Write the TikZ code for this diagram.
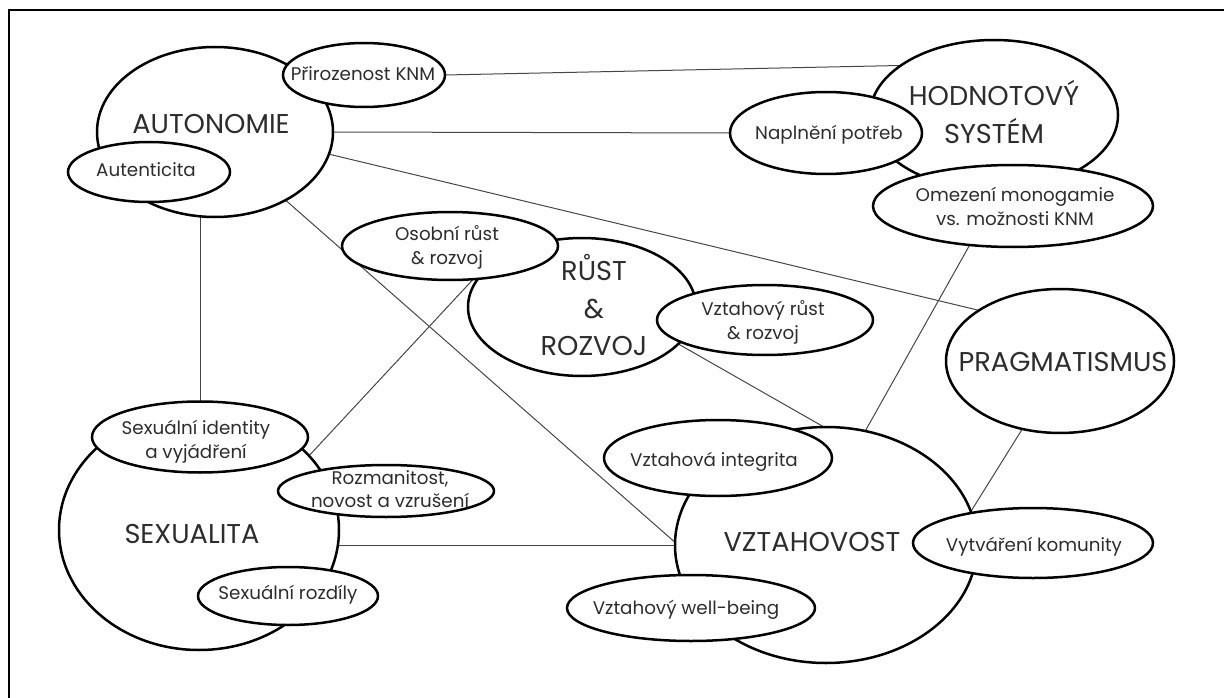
\documentclass[tikz,border=0pt]{standalone}
\usepackage{fontspec}
\setmainfont{Poppins}
\usetikzlibrary{shapes.geometric,backgrounds}
\definecolor{txt}{RGB}{45,45,45}
\definecolor{ln}{RGB}{70,70,70}
\newcommand\zt[3]{\makebox[0pt]{\kern#1\relax\raisebox{\dimexpr#2-0.25em\relax}[0pt][0pt]{\begin{tabular}{@{}c@{}}#3\end{tabular}}\kern-#1\relax}}
\newcommand\bigfs{\fontsize{27.2}{37.5}\selectfont}
\newcommand\smallfs{\fontsize{18.3}{23.5}\selectfont}
\begin{document}
\begin{tikzpicture}[x=1pt,y=-1pt,
  ell/.style={ellipse,draw=black,fill=white,line width=2.5pt,inner sep=0pt,outer sep=0pt,text=txt},
  bigell/.style={ell,font=\bigfs},
  smallell/.style={ell,font=\smallfs},
  conn/.style={draw=ln,line width=1pt},
  frameline/.style={draw=black,line width=2pt}]
\useasboundingbox (0,0) rectangle (1224,698);
\draw[frameline] (9,698) -- (9,10) -- (1224,10);

% big ellipses
\node[bigell,minimum width=236pt,minimum height=170pt] (aut) at (215,132) {\zt{-4pt}{7pt}{AUTONOMIE}};
\node[bigell,minimum width=248pt,minimum height=150pt] (hod) at (994,115) {\zt{0pt}{-1.5pt}{HODNOTOVÝ\\SYSTÉM}};
\node[bigell,minimum width=228pt,minimum height=138pt] (rust) at (582,307) {\zt{12pt}{-3pt}{RŮST\\\&\\ROZVOJ}};
\node[bigell,minimum width=228pt,minimum height=144pt] (prag) at (1060,361) {\zt{3pt}{-2pt}{PRAGMATISMUS}};
\node[bigell,minimum width=280pt,minimum height=240pt] (sex) at (199,530) {\zt{-7pt}{-5pt}{SEXUALITA}};
\node[bigell,minimum width=302pt,minimum height=236pt] (vzt) at (826,545) {\zt{-14pt}{2pt}{VZTAHOVOST}};

% small ellipses
\node[smallell,minimum width=162pt,minimum height=64pt] (prir) at (364,75) {\zt{-1pt}{-1pt}{Přirozenost KNM}};
\node[smallell,minimum width=162pt,minimum height=60pt] (autc) at (149,172) {\zt{-3pt}{0pt}{Autenticita}};
\node[smallell,minimum width=192pt,minimum height=82pt] (napl) at (826,133) {\zt{3pt}{-2pt}{Naplnění potřeb}};
\node[smallell,minimum width=280pt,minimum height=82pt] (omez) at (1013,206) {\zt{2pt}{-2.5pt}{Omezení monogamie\\vs. možnosti KNM}};
\node[smallell,minimum width=216pt,minimum height=68pt] (osob) at (450,246) {\zt{-3pt}{-1.5pt}{Osobní růst\\\& rozvoj}};
\node[smallell,minimum width=216pt,minimum height=70pt] (vrust) at (765,320) {\zt{-2pt}{-2.5pt}{Vztahový růst\\\& rozvoj}};
\node[smallell,minimum width=216pt,minimum height=71pt] (sexid) at (200,437) {\zt{-4pt}{-4.5pt}{Sexuální identity\\a vyjádření}};
\node[smallell,minimum width=216pt,minimum height=52pt] (rozm) at (386,491) {\zt{4pt}{0pt}{Rozmanitost,\\novost a vzrušení}};
\node[smallell,minimum width=180pt,minimum height=58pt] (sexr) at (288,596) {\zt{0pt}{1pt}{Sexuální rozdíly}};
\node[smallell,minimum width=228pt,minimum height=76pt] (vint) at (718,458) {\zt{-4pt}{-4pt}{Vztahová integrita}};
\node[smallell,minimum width=240pt,minimum height=70pt] (vkom) at (1033,543) {\zt{1pt}{-4pt}{Vytváření komunity}};
\node[smallell,minimum width=248pt,minimum height=66pt] (vwell) at (691,608) {\zt{-5pt}{-2pt}{Vztahový well-being}};

% connectors
\begin{scope}[on background layer]
\draw[conn] (prir.0) -- (hod.152);
\draw[conn] (aut.0) -- (napl.180);
\draw[conn] (aut.-11.5) -- (prag.148);
\draw[conn] (aut.center -| sexid.north) -- (sexid.north);
\draw[conn] (aut.-44) -- (vzt.179);
\draw[conn] (osob.-55) -- (sex.34);
\draw[conn] (rust.-21) -- (vzt.91);
\draw[conn] (omez.-138) -- (vzt.71);
\draw[conn] (prag.-119) -- (vzt.13);
\draw[conn] (vzt.west -| sex.center) -- (vzt.west);
\end{scope}
\end{tikzpicture}
\end{document}
